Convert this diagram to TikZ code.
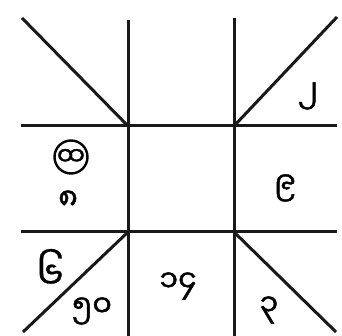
\documentclass[tikz,border=0pt]{standalone}
\usepackage{fontspec}
\newfontfamily\my[Script=Myanmar,FakeBold=1.5]{Noto Sans Myanmar UI}
\newfontfamily\mysix[Script=Myanmar,FakeBold=0.8]{Noto Sans Myanmar UI}
\begin{document}
\begin{tikzpicture}[x=1pt,y=-1pt,
  grid/.style={line width=3pt,black!90},
  lbl/.style={font=\my\fontsize{30}{32}\selectfont,inner sep=0pt},
  ring/.style={draw,circle,line width=2.4pt,minimum size=33pt,inner sep=0pt,font=\my\fontsize{25}{27}\selectfont}]
\useasboundingbox (0,0) rectangle (342,336);
\coordinate (tl) at (128,126);
\coordinate (tr) at (234,126);
\coordinate (bl) at (128,232);
\coordinate (br) at (234,232);
\coordinate (v1t) at (128,20);
\coordinate (v1b) at (128,336);
\coordinate (v2t) at (234,18);
\coordinate (v2b) at (234,336);
\coordinate (h1l) at (21,126);
\coordinate (h1r) at (337,126);
\coordinate (h2l) at (21,232);
\coordinate (h2r) at (337,232);
\coordinate (dtl) at (22,18);
\coordinate (dtr) at (337,17);
\coordinate (dbl) at (23,332);
\coordinate (dbr) at (336,332);
\draw[grid] (v1t) -- (v1b);
\draw[grid] (v2t) -- (v2b);
\draw[grid] (h1l) -- (h1r);
\draw[grid] (h2l) -- (h2r);
\draw[grid] (dtl) -- (tl);
\draw[grid] (dtr) -- (tr);
\draw[grid] (dbl) -- (bl);
\draw[grid] (dbr) -- (br);
\node[lbl] (n2) at (308,96) {၂};
\node[ring] (c) at (71,157) {ထ};
\node[lbl] (n8) at (68,200) {၈};
\node[lbl] (n9) at (285,188) {၉};
\node[lbl,font=\mysix\fontsize{38}{40}\selectfont] (n6) at (50,269) {၆};
\node[lbl] (n50) at (92,311) {၅၀};
\node[lbl] (n14) at (178,286) {၁၄};
\node[lbl] (n3) at (269,310) {၃};
\end{tikzpicture}
\end{document}
